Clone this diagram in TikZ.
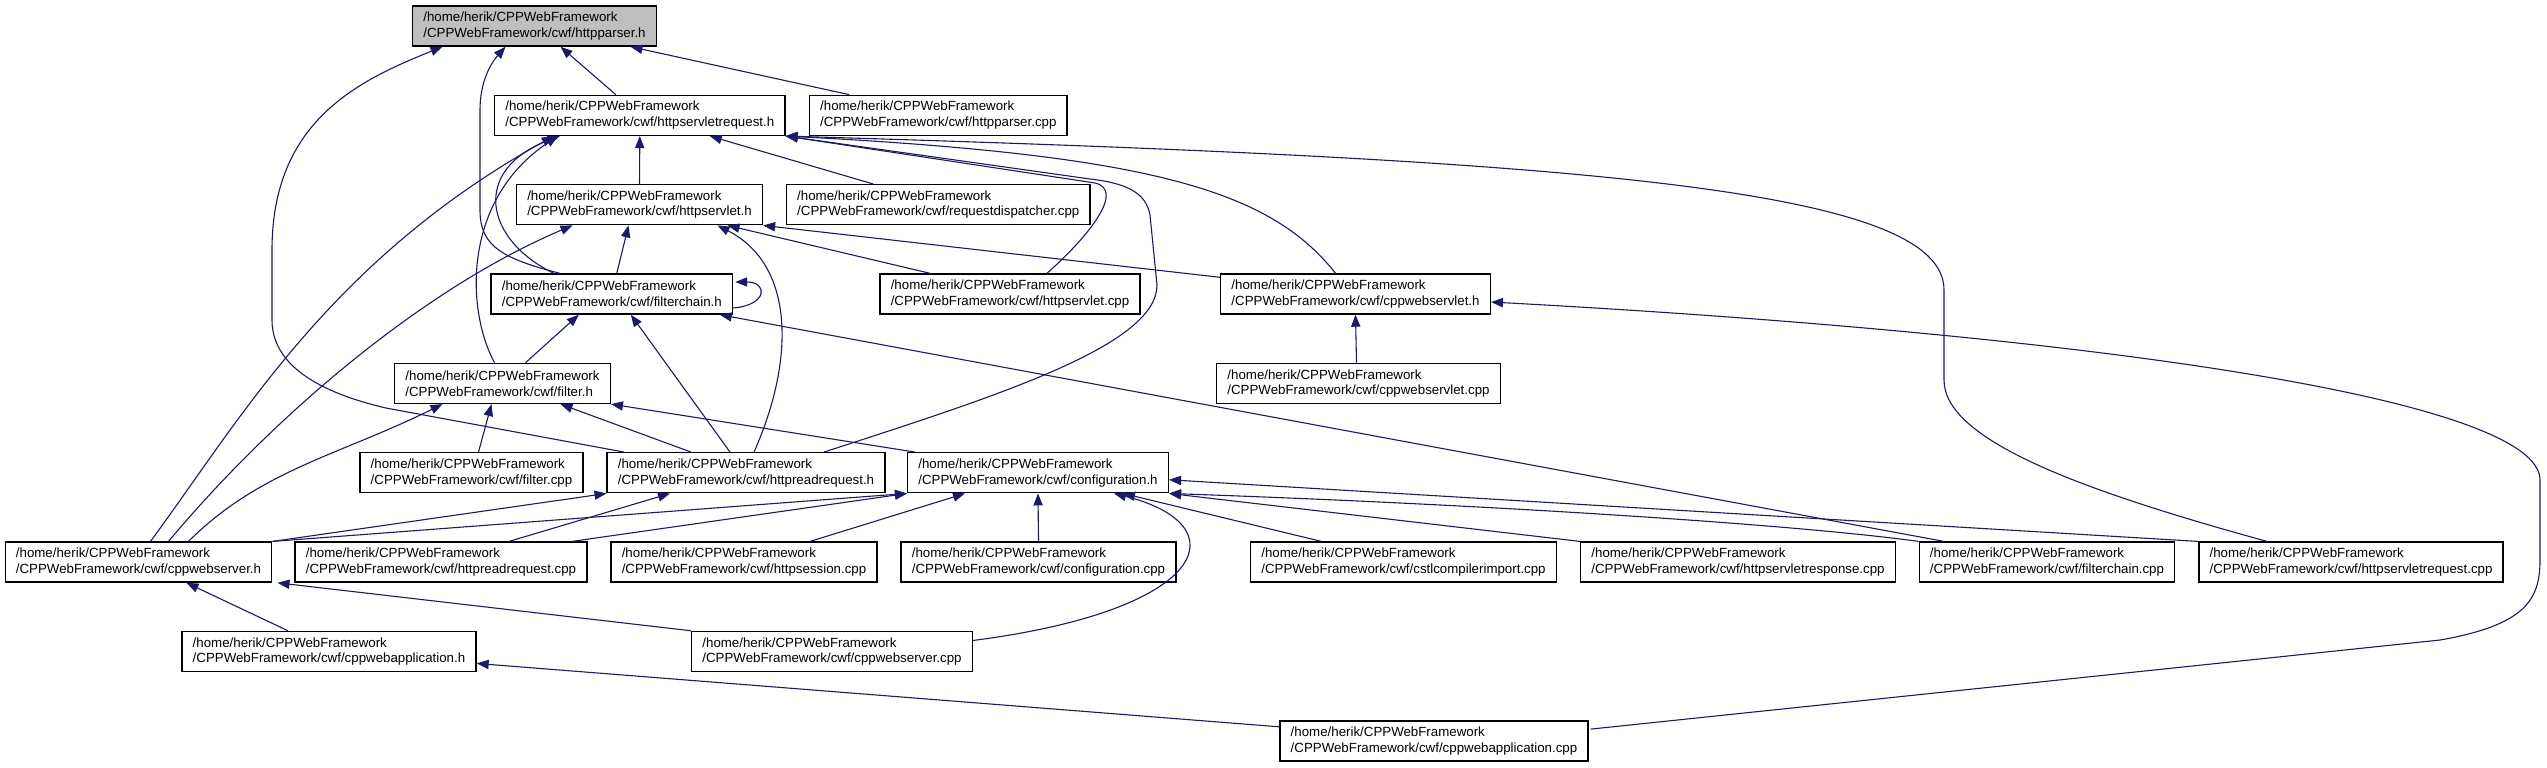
\documentclass[tikz,border=0pt]{standalone}
\usepackage{fontspec}
\setmainfont{Liberation Sans}
\usetikzlibrary{arrows.meta,calc}

\definecolor{edgeblue}{HTML}{191970}
\definecolor{boxgray}{HTML}{BFBFBF}

\newcommand*{\prjhome}{/home/herik/CPPWebFramework}
\newcommand*{\prjcwf}{/CPPWebFramework/cwf/}

\begin{document}
\begin{tikzpicture}
[
	x=0.5pt, y=-0.5pt,
	box/.style={draw=black,line width=0.7pt,fill=white,align=left,minimum height=20pt,inner xsep=5.35pt,inner ysep=0pt,font=\fontsize{6.65}{7.85}\selectfont},
	focus/.style={box,fill=boxgray},
	edge/.style={-{Triangle[length=6pt,width=4.6pt]},draw=edgeblue,line width=0.55pt}
]
	\useasboundingbox (0,0) rectangle (2547,767);

	% files
	\node[focus] at (534.5,26) (parserh) {\prjhome\\\prjcwf httpparser.h};
	\node[box] at (639.8,115.35) (reqh) {\prjhome\\\prjcwf httpservletrequest.h};
	\node[box] at (938.3,115.35) (parsercpp) {\prjhome\\\prjcwf httpparser.cpp};
	\node[box] at (639.5,204.7) (servleth) {\prjhome\\\prjcwf httpservlet.h};
	\node[box] at (938.3,204.7) (dispcpp) {\prjhome\\\prjcwf requestdispatcher.cpp};
	\node[box] at (611.8,294) (chainh) {\prjhome\\\prjcwf filterchain.h};
	\node[box] at (1010,294) (servletcpp) {\prjhome\\\prjcwf httpservlet.cpp};
	\node[box] at (1355.5,294) (cwservleth) {\prjhome\\\prjcwf cppwebservlet.h};
	\node[box] at (502.5,383.4) (filterh) {\prjhome\\\prjcwf filter.h};
	\node[box] at (1358.5,383.4) (cwservletcpp) {\prjhome\\\prjcwf cppwebservlet.cpp};
	\node[box] at (471.5,472.75) (filtercpp) {\prjhome\\\prjcwf filter.cpp};
	\node[box] at (746,472.75) (readh) {\prjhome\\\prjcwf httpreadrequest.h};
	\node[box] at (1038,472.75) (configh) {\prjhome\\\prjcwf configuration.h};
	\node[box] at (138.5,562.1) (serverh) {\prjhome\\\prjcwf cppwebserver.h};
	\node[box] at (441,562.1) (readcpp) {\prjhome\\\prjcwf httpreadrequest.cpp};
	\node[box] at (744,562.1) (sessioncpp) {\prjhome\\\prjcwf httpsession.cpp};
	\node[box] at (1038.5,562.1) (configcpp) {\prjhome\\\prjcwf configuration.cpp};
	\node[box] at (1403.5,562.1) (cstlcpp) {\prjhome\\\prjcwf cstlcompilerimport.cpp};
	\node[box] at (1738,562.1) (responsecpp) {\prjhome\\\prjcwf httpservletresponse.cpp};
	\node[box] at (2047,562.1) (chaincpp) {\prjhome\\\prjcwf filterchain.cpp};
	\node[box] at (2351,562.1) (reqcpp) {\prjhome\\\prjcwf httpservletrequest.cpp};
	\node[box] at (329,651.45) (apph) {\prjhome\\\prjcwf cppwebapplication.h};
	\node[box] at (832,651.45) (servercpp) {\prjhome\\\prjcwf cppwebserver.cpp};
	\node[box] at (1434,740.8) (appcpp) {\prjhome\\\prjcwf cppwebapplication.cpp};

	% includes of httpparser.h
	\draw[edge] ($(readh.north)+(-122,0)$) -- (386,408) .. controls (330,395) and (272,370) .. (272,320) -- (272,250) .. controls (272,120) and (360,80) .. ($(parserh.south)+(-92,0)$);
	\draw[edge] ($(chainh.north)+(-52,0)$) .. controls (500,258) and (480,245) .. (480,210) -- (480,110) .. controls (480,80) and (492,62) .. ($(parserh.south)+(-29,0)$);
	\draw[edge] ($(reqh.north)+(-24,0)$) -- ($(parserh.south)+(26,0)$);
	\draw[edge] ($(parsercpp.north)+(-89,0)$) -- ($(parserh.south)+(96,0)$);

	% includes of httpservletrequest.h
	\draw[edge] ($(serverh.north)+(12,0)$) .. controls (240,420) and (330,260) .. ($(reqh.south)+(-86,0)$);
	\draw[edge] ($(filterh.north)+(-8,0)$) .. controls (466,310) and (462,200) .. ($(reqh.south)+(-82,0)$);
	\draw[edge] ($(chainh.north)+(-58,0)$) .. controls (485,240) and (470,170) .. ($(reqh.south)+(-80,0)$);
	\draw[edge] (servleth.north) -- (reqh.south);
	\draw[edge] ($(dispcpp.north)+(-65,0)$) -- ($(reqh.south)+(70,0)$);
	\draw[edge] ($(servletcpp.north)+(37,0)$) .. controls (1090,235) and (1125,190) .. (1095,183) -- (reqh.south east);
	\draw[edge] ($(readh.north)+(78,0)$) .. controls (1000,395) and (1157,345) .. (1157,285) -- (1150,215) .. controls (1146,192) and (1125,183) .. (1090,179) -- (reqh.south east);
	\draw[edge] ($(cwservleth.north)+(-20,0)$) .. controls (1270,190) and (1150,155) .. (reqh.south east);
	\draw[edge] ($(reqcpp.north)+(-84,0)$) .. controls (2080,490) and (1944,440) .. (1944,380) -- (1944,290) .. controls (1944,190) and (1600,160) .. (reqh.south east);

	% includes of httpservlet.h
	\draw[edge] ($(serverh.north)+(30,0)$) .. controls (270,420) and (420,290) .. ($(servleth.south)+(-67,0)$);
	\draw[edge] ($(chainh.north)+(5,0)$) -- ($(servleth.south)+(-11,0)$);
	\draw[edge] ($(readh.north)+(8,0)$) .. controls (795,360) and (795,265) .. ($(servleth.south)+(78,0)$);
	\draw[edge] ($(servletcpp.north)+(-80,0)$) -- ($(servleth.south)+(88,0)$);
	\draw[edge] ($(cwservleth.north west)+(0,4)$) -- (servleth.south east);

	% includes of filterchain.h
	\draw[edge] ($(filterh.north)+(23,0)$) -- ($(chainh.south)+(-33,0)$);
	\draw[edge] ($(readh.north)+(-16,0)$) -- ($(chainh.south)+(19,0)$);
	\draw[edge] ($(chaincpp.north)+(-103,0)$) -- ($(chainh.south)+(108,0)$);
	\draw[edge] ($(chainh.east)+(0,14)$) .. controls (768,305) and (768,282) .. ($(chainh.east)+(2,-12)$);

	% includes of filter.h
	\draw[edge] ($(serverh.north)+(50,0)$) .. controls (260,470) and (340,455) .. ($(filterh.south)+(-60,0)$);
	\draw[edge] ($(filtercpp.north)+(7,0)$) -- ($(filterh.south)+(-11,0)$);
	\draw[edge] ($(readh.north)+(-55,0)$) -- ($(filterh.south)+(58,0)$);
	\draw[edge] ($(configh.north)+(-123,0)$) -- (filterh.south east);

	% includes of httpreadrequest.h
	\draw[edge] (serverh.north east) -- (readh.south west);
	\draw[edge] ($(readcpp.north)+(68,0)$) -- ($(readh.south)+(-76,0)$);

	% includes of configuration.h
	\draw[edge] (serverh.north east) -- (configh.south west);
	\draw[edge] ($(readcpp.north)+(131,0)$) -- (configh.south west);
	\draw[edge] ($(sessioncpp.north)+(66,0)$) -- ($(configh.south)+(-73,0)$);
	\draw[edge] (configcpp.north) -- (configh.south);
	\draw[edge] ($(cstlcpp.north)+(-82,0)$) -- ($(configh.south)+(85,0)$);
	\draw[edge] (responsecpp.north west) -- (configh.south east);
	\draw[edge] (chaincpp.north west) .. controls (1800,525) and (1500,505) .. (configh.south east);
	\draw[edge] (reqcpp.north west) -- ($(configh.east)+(0,7)$);
	\draw[edge] ($(servercpp.east)+(0,-11)$) .. controls (1210,610) and (1240,525) .. ($(configh.south)+(76,0)$);

	% includes of cppwebservlet.h
	\draw[edge] ($(cwservletcpp.north)+(-2,0)$) -- (cwservleth.south);
	\draw[edge] ($(appcpp.north east)+(2,9)$) -- (2440,640) .. controls (2525,625) and (2540,600) .. (2540,560) -- (2540,480) .. controls (2540,400) and (2100,335) .. ($(cwservleth.east)+(0,8)$);

	% includes of cppwebserver.h and cppwebapplication.h
	\draw[edge] ($(apph.north)+(-41,0)$) -- ($(serverh.south)+(48,0)$);
	\draw[edge] (servercpp.north west) -- ($(serverh.south east)+(5,0)$);
	\draw[edge] ($(appcpp.west)+(0,-14)$) -- ($(apph.east)+(0,12)$);

\end{tikzpicture}
\end{document}
